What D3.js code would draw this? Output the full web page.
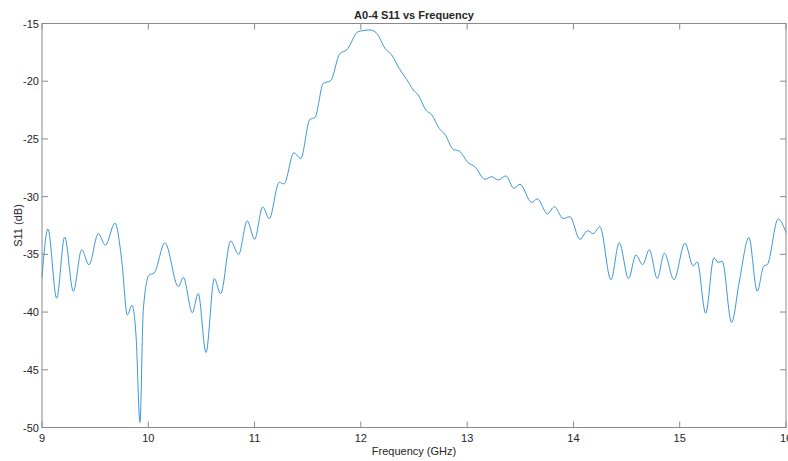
<!DOCTYPE html>
<html lang="en">
<head>
	<meta charset="UTF-8">
	<title>A0-4 S11 vs Frequency</title>
	<style>
		body { margin: 0; background: #fff; }
		text { font-family: "Liberation Sans", Arial, sans-serif; fill: #262626; }
	</style>
</head>
<body>
	<script src="https://d3js.org/d3.v7.min.js"></script>
	<script type="text/javascript">
		// frequency (GHz) and S11 (dB)
		var freq = [9.0, 9.056, 9.138, 9.213, 9.295, 9.373, 9.442, 9.53, 9.596, 9.687, 9.75, 9.803, 9.847, 9.885, 9.922, 9.953, 10.007, 10.056,
			10.157, 10.283, 10.33, 10.414, 10.47, 10.543, 10.621, 10.681, 10.775, 10.85, 10.931, 11.0, 11.076, 11.138, 11.232, 11.277,
			11.37, 11.434, 11.521, 11.568, 11.646, 11.716, 11.803, 11.866, 11.976, 12.086, 12.149, 12.227, 12.29, 12.368, 12.431,
			12.493, 12.54, 12.612, 12.666, 12.738, 12.791, 12.869, 12.926, 13.01, 13.073, 13.168, 13.23, 13.293, 13.365, 13.44, 13.497,
			13.607, 13.66, 13.757, 13.82, 13.904, 13.967, 14.061, 14.133, 14.186, 14.249, 14.353, 14.431, 14.519, 14.588, 14.651,
			14.714, 14.789, 14.855, 14.946, 15.049, 15.127, 15.165, 15.244, 15.322, 15.362, 15.4, 15.488, 15.56, 15.651, 15.729,
			15.792, 15.823, 15.926, 16.0];
		var s11 = [-37.0, -32.8, -38.8, -33.5, -38.2, -34.6, -35.9, -33.2, -34.2, -32.3, -35.5, -40.25, -39.4, -42.1, -49.55, -39.8, -36.8, -36.6,
			-34.0, -37.8, -37.0, -40.05, -38.4, -43.5, -37.1, -38.4, -33.85, -35.0, -32.1, -33.7, -30.9, -31.9, -28.76, -28.9,
			-26.2, -26.7, -23.3, -23.16, -20.2, -19.95, -17.6, -17.3, -15.7, -15.56, -15.85, -17.15, -17.73, -19.0, -19.84,
			-20.76, -21.2, -22.5, -22.9, -24.1, -24.6, -25.9, -26.05, -27.06, -27.4, -28.5, -28.27, -28.56, -28.2, -29.28, -28.93,
			-30.5, -30.2, -31.5, -30.87, -31.9, -31.74, -33.7, -32.95, -33.2, -32.6, -37.2, -34.0, -37.1, -35.05, -35.9,
			-34.6, -37.1, -34.9, -37.2, -34.04, -36.0, -35.66, -40.1, -35.3, -35.7, -35.6, -40.9, -37.4, -33.55, -38.2,
			-36.0, -35.9, -31.94, -33.1];
		var xTicks = [9, 10, 11, 12, 13, 14, 15, 16];
		var yTicks = [-50, -45, -40, -35, -30, -25, -20, -15];

		var width = 788, height = 461;
		var margin = {left: 42, right: 2, top: 23.5, bottom: 33.5};

		var svg = d3.select("body").append("svg").attr("width", width).attr("height", height);

		var x = d3.scaleLinear().domain([9, 16]).range([margin.left, width - margin.right]);
		var y = d3.scaleLinear().domain([-50, -15]).range([height - margin.bottom, margin.top]);

		var axisColor = "#8a8a8a";

		// curve
		var points = freq.map(function(f, i){ return [f, s11[i]]; });
		var line = d3.line()
			.x(function(d){ return x(d[0]); })
			.y(function(d){ return y(d[1]); })
			.curve(d3.curveMonotoneX);

		svg.append("path")
			.datum(points)
			.attr("d", line)
			.attr("fill", "none")
			.attr("stroke", "#3d97d6")
			.attr("stroke-width", 1);

		// box
		svg.append("rect")
			.attr("x", x(9)).attr("y", y(-15))
			.attr("width", x(16) - x(9)).attr("height", y(-50) - y(-15))
			.attr("fill", "none").attr("stroke", axisColor).attr("stroke-width", 1);

		// ticks, inward, mirrored on top and right
		var tl = 6;
		xTicks.forEach(function(t){
			svg.append("line").attr("x1", x(t)).attr("x2", x(t)).attr("y1", y(-50)).attr("y2", y(-50) - tl).attr("stroke", axisColor);
			svg.append("line").attr("x1", x(t)).attr("x2", x(t)).attr("y1", y(-15)).attr("y2", y(-15) + tl).attr("stroke", axisColor);
			svg.append("text").attr("x", x(t)).attr("y", y(-50) + 14).attr("text-anchor", "middle")
				.attr("font-size", 11).text(t);
		});
		yTicks.forEach(function(t){
			svg.append("line").attr("x1", x(9)).attr("x2", x(9) + tl).attr("y1", y(t)).attr("y2", y(t)).attr("stroke", axisColor);
			svg.append("line").attr("x1", x(16)).attr("x2", x(16) - tl).attr("y1", y(t)).attr("y2", y(t)).attr("stroke", axisColor);
			svg.append("text").attr("x", x(9) - 3).attr("y", y(t) + 4).attr("text-anchor", "end")
				.attr("font-size", 11).text(t);
		});

		// labels
		svg.append("text").attr("x", (x(9) + x(16)) / 2).attr("y", 19).attr("text-anchor", "middle")
			.attr("font-size", 11).attr("font-weight", "bold").text("A0-4 S11 vs Frequency");
		svg.append("text").attr("x", (x(9) + x(16)) / 2).attr("y", 455).attr("text-anchor", "middle")
			.attr("font-size", 11).text("Frequency (GHz)");
		svg.append("text").attr("transform", "translate(22," + (y(-32.5)) + ") rotate(-90)")
			.attr("text-anchor", "middle").attr("font-size", 11).text("S11 (dB)");
	</script>
</body>
</html>
